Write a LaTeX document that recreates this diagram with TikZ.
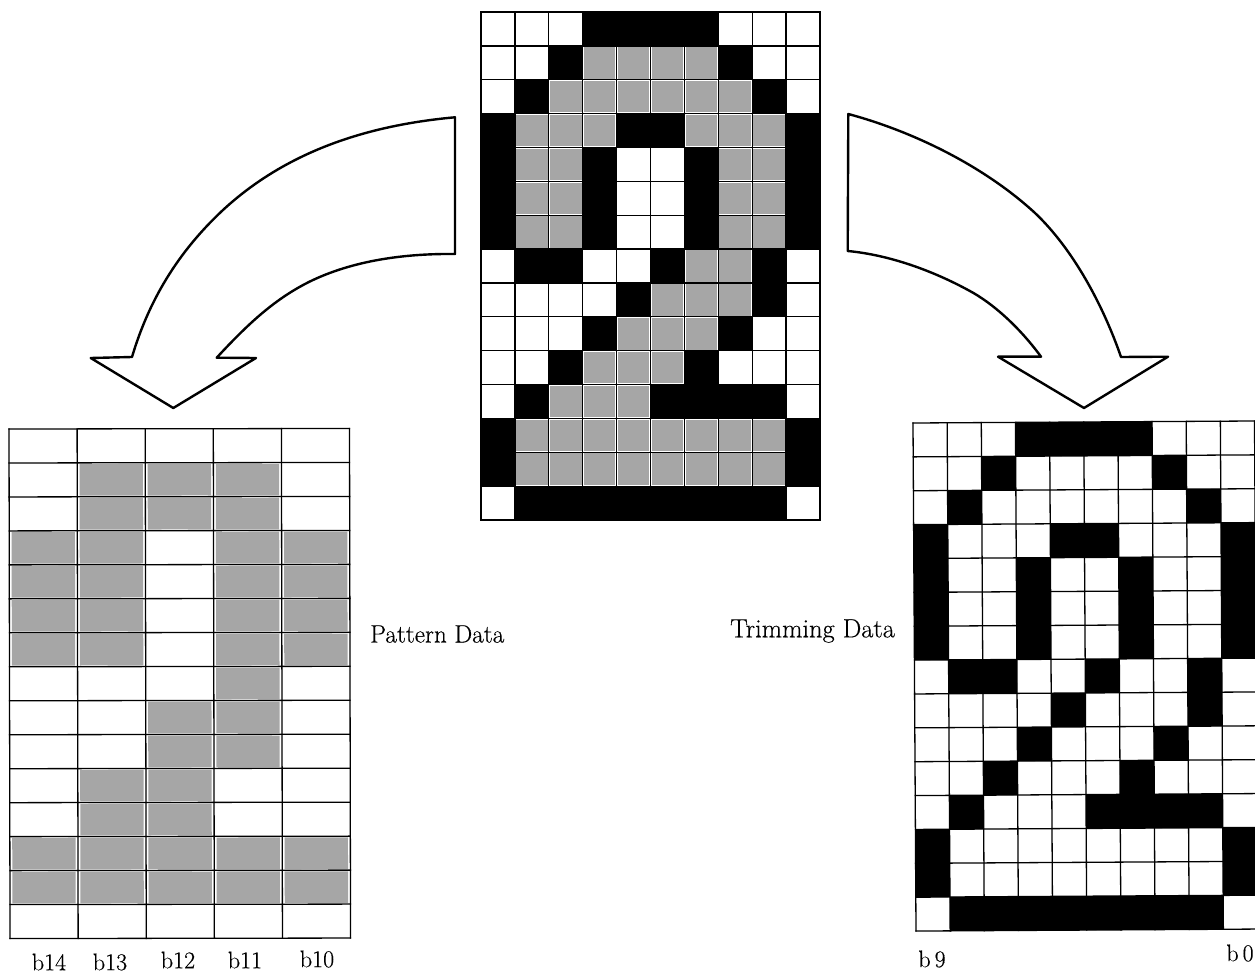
\documentclass[tikz,border=0pt]{standalone}
\usepackage{fontspec}
\setmainfont[FakeBold=0.35]{Latin Modern Roman}
\newfontfamily\labelfont[FakeBold=0.35]{Latin Modern Roman}
\newcommand{\gridcells}[3]{% #1 cols, #2 rows, #3 row list
  \foreach \rr/\rowvals in {#3} {
    \foreach \vv [count=\cc from 0] in \rowvals {
      \ifnum\vv=1
        \fill[black] (\cc,\rr) -- (\cc+1,\rr) -- (\cc+1,\rr+1) -- (\cc,\rr+1) -- cycle;
      \fi
      \ifnum\vv=2
        \fill[halftone] (\cc+0.035,\rr+0.035) -- (\cc+0.965,\rr+0.035) -- (\cc+0.965,\rr+0.965) -- (\cc+0.035,\rr+0.965) -- cycle;
      \fi
    }
  }
  \foreach \cc in {0,...,#1} {\draw[gridline] (\cc,0) -- (\cc,#2);}
  \foreach \rr in {0,...,#2} {\draw[gridline] (0,\rr) -- (#1,\rr);}
}
\tikzset{
  gridline/.style={black,line width=1.3pt,line cap=rect},
  halftone/.style={fill=black!35},
  bigarrow/.style={draw=black,fill=white,line width=2.4pt,line join=round},
  lbl/.style={inner sep=0pt,font=\labelfont\fontsize{24}{28}\selectfont},
  sidelbl/.style={inner sep=0pt,anchor=west}
}
\begin{document}
\begin{tikzpicture}[x=1pt,y=-1pt]
\useasboundingbox (0,0) rectangle (1255,973);
\fill[white] (0,0) rectangle (1255,973);
% top grid
\begin{scope}[shift={(481,12)},x={(33.9pt,0pt)},y={(0pt,-33.87pt)}]
\gridcells{10}{15}{
0/{0,0,0,1,1,1,1,0,0,0},
1/{0,0,1,2,2,2,2,1,0,0},
2/{0,1,2,2,2,2,2,2,1,0},
3/{1,2,2,2,1,1,2,2,2,1},
4/{1,2,2,1,0,0,1,2,2,1},
5/{1,2,2,1,0,0,1,2,2,1},
6/{1,2,2,1,0,0,1,2,2,1},
7/{0,1,1,0,0,1,2,2,1,0},
8/{0,0,0,0,1,2,2,2,1,0},
9/{0,0,0,1,2,2,2,1,0,0},
10/{0,0,1,2,2,2,1,0,0,0},
11/{0,1,2,2,2,1,1,1,1,0},
12/{1,2,2,2,2,2,2,2,2,1},
13/{1,2,2,2,2,2,2,2,2,1},
14/{0,1,1,1,1,1,1,1,1,0}}
\end{scope}
% left grid
\begin{scope}[shift={(9,429)},x={(68.1pt,0.1pt)},y={(0.07pt,-33.97pt)}]
\gridcells{5}{15}{
0/{0,0,0,0,0},
1/{0,2,2,2,0},
2/{0,2,2,2,0},
3/{2,2,0,2,2},
4/{2,2,0,2,2},
5/{2,2,0,2,2},
6/{2,2,0,2,2},
7/{0,0,0,2,0},
8/{0,0,2,2,0},
9/{0,0,2,2,0},
10/{0,2,2,0,0},
11/{0,2,2,0,0},
12/{2,2,2,2,2},
13/{2,2,2,2,2},
14/{0,0,0,0,0}}
\end{scope}
% right grid
\begin{scope}[shift={(913,423)},x={(34.15pt,0.2pt)},y={(0.2pt,-33.87pt)}]
\gridcells{10}{15}{
0/{0,0,0,1,1,1,1,0,0,0},
1/{0,0,1,0,0,0,0,1,0,0},
2/{0,1,0,0,0,0,0,0,1,0},
3/{1,0,0,0,1,1,0,0,0,1},
4/{1,0,0,1,0,0,1,0,0,1},
5/{1,0,0,1,0,0,1,0,0,1},
6/{1,0,0,1,0,0,1,0,0,1},
7/{0,1,1,0,0,1,0,0,1,0},
8/{0,0,0,0,1,0,0,0,1,0},
9/{0,0,0,1,0,0,0,1,0,0},
10/{0,0,1,0,0,0,1,0,0,0},
11/{0,1,0,0,0,1,1,1,1,0},
12/{1,0,0,0,0,0,0,0,0,1},
13/{1,0,0,0,0,0,0,0,0,1},
14/{0,1,1,1,1,1,1,1,1,0}}
\end{scope}
% left arrow
\draw[bigarrow] (455,117.3)
  .. controls (370,125) and (288,150) .. (223,210)
  .. controls (178,252) and (149,300) .. (132,357)
  -- (90.7,358) -- (173.3,408) -- (256,358) -- (216.7,357.7)
  .. controls (247,325) and (275,298) .. (313,280)
  .. controls (358,259) and (410,253.5) .. (455,254)
  -- cycle;
% right arrow
\draw[bigarrow] (848.3,114)
  .. controls (915,132) and (985,167) .. (1035,213)
  .. controls (1073,249) and (1103,305) .. (1121,357)
  -- (1168,356.7) -- (1084,408) -- (998,356.7) -- (1041,356.7)
  .. controls (1020,328) and (993,303) .. (968,290)
  .. controls (933,271) and (890,255) .. (847.7,251)
  -- cycle;
% labels
\node[sidelbl,font=\labelfont\fontsize{25.2}{28}\selectfont] (pattern) at (370,634) {Pattern Data};
\node[sidelbl,font=\labelfont\fontsize{26.4}{30}\selectfont] (trimming) at (730,631) {Trimming Data};
\node[lbl] (b14) at (49,962) {b14};
\node[lbl] (b13) at (110,962) {b13};
\node[lbl] (b12) at (178,960) {b12};
\node[lbl] (b11) at (245,960) {b11};
\node[lbl] (b10) at (317,959) {b10};
\node[lbl] (b9) at (932,959) {b\,9};
\node[lbl] (b0) at (1240,953) {b\,0};
\end{tikzpicture}
\end{document}
